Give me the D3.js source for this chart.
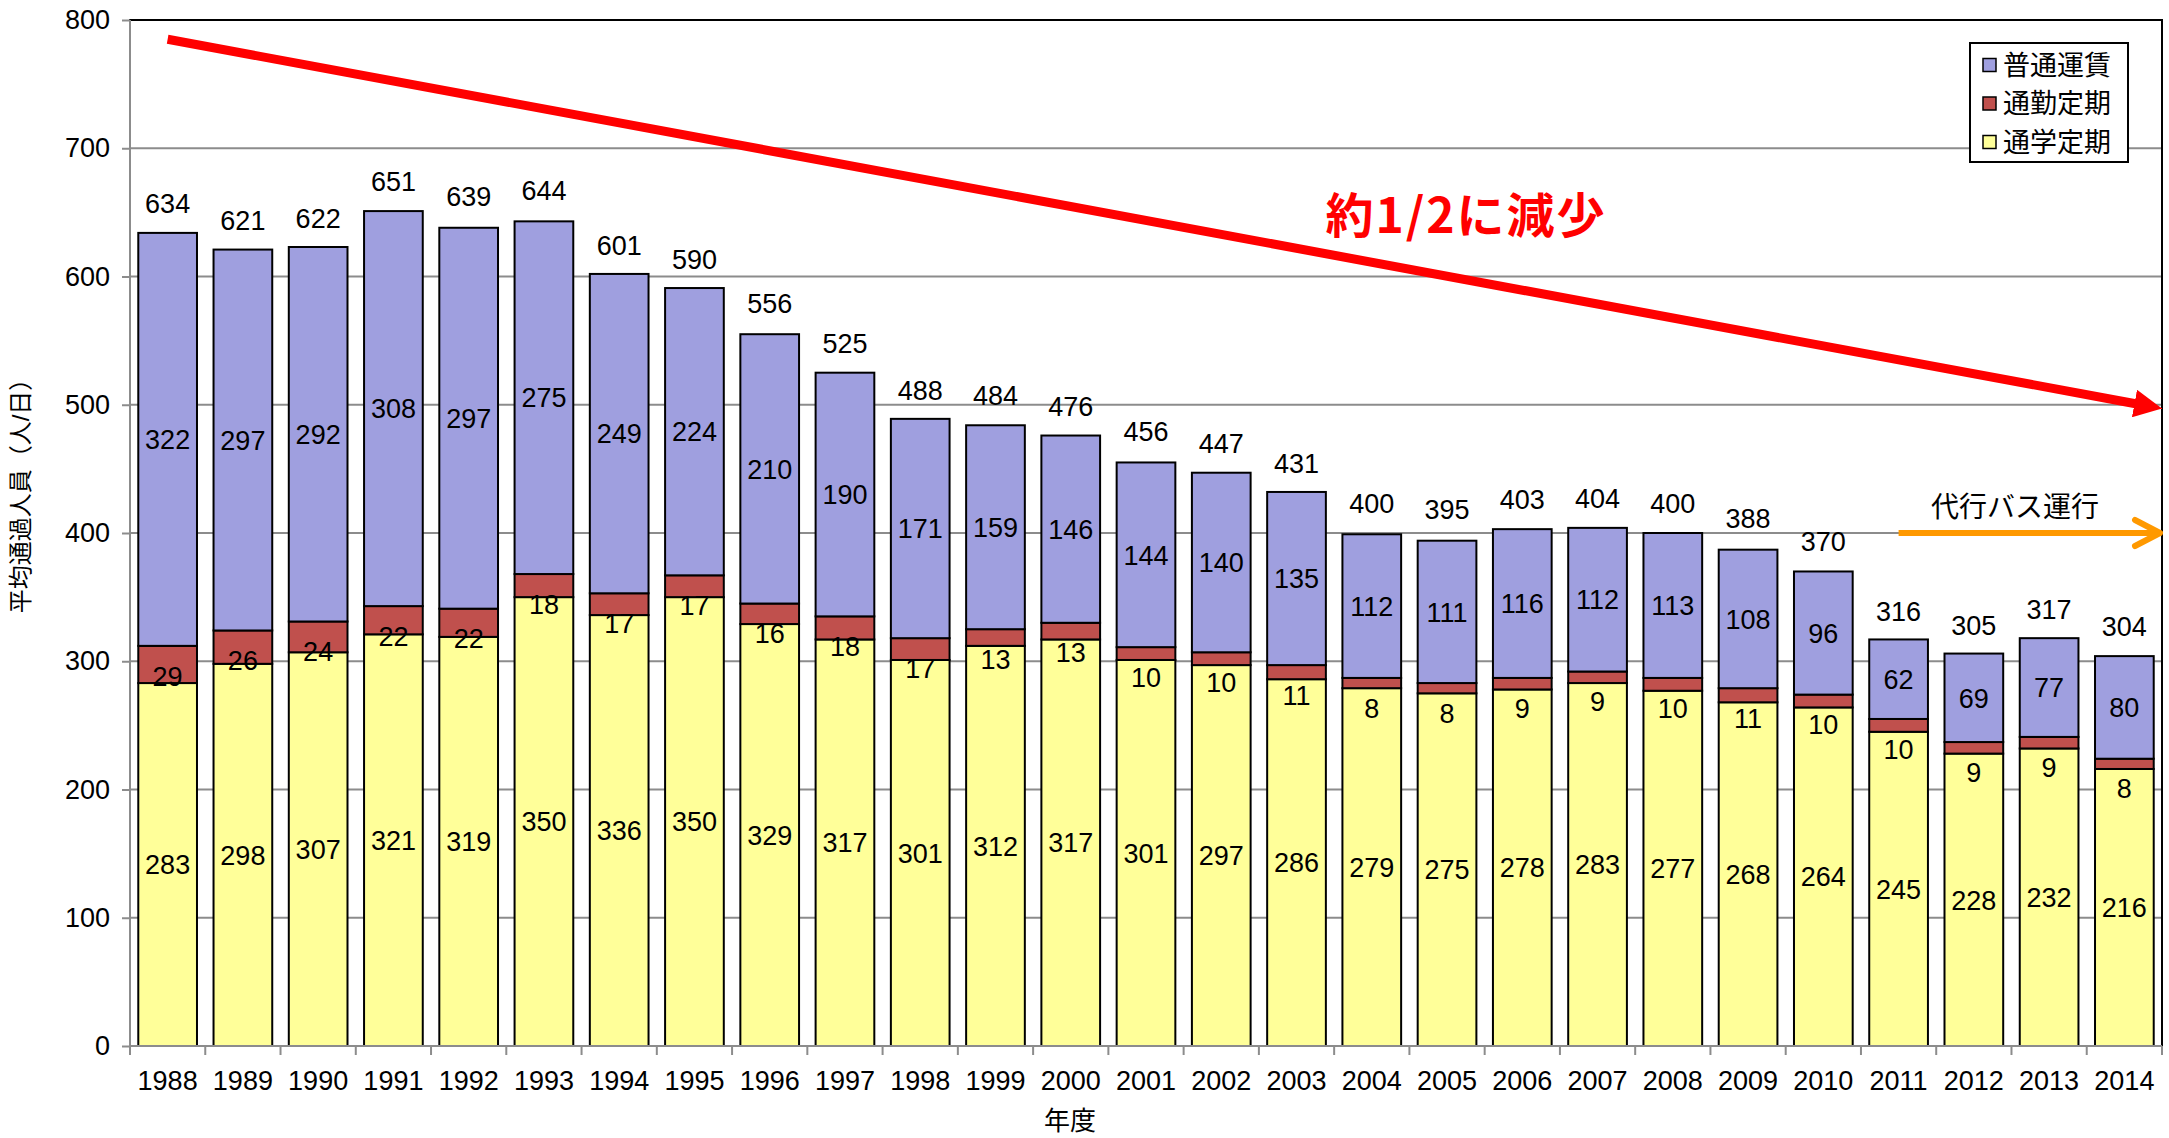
<!DOCTYPE html>
<html>
<head>
<meta charset="utf-8">
<script src="https://cdn.jsdelivr.net/npm/d3@7"></script>
<style>
  body { margin: 0; background: #fff; }
  text { font-family: "Liberation Sans", "Noto Sans CJK JP", sans-serif; }
</style>
</head>
<body>
<div id="chart"></div>
<script>
// 年度ごとの平均通過人員（人/日）
const years = ["1988","1989","1990","1991","1992","1993","1994","1995","1996","1997","1998","1999","2000",
  "2001","2002","2003","2004","2005","2006","2007","2008","2009","2010","2011","2012","2013","2014"];
const regular = [322,297,292,308,297,275,249,224,210,190,171,159,146,144,140,135,112,111,116,112,113,108,96,62,69,77,80];
const commute = [29,26,24,22,22,18,17,17,16,18,17,13,13,10,10,11,8,8,9,9,10,11,10,10,9,9,8];
const school = [283,298,307,321,319,350,336,350,329,317,301,312,317,301,297,286,279,275,278,283,277,268,264,245,228,232,216];
const totals = [634,621,622,651,639,644,601,590,556,525,488,484,476,456,447,431,400,395,403,404,400,388,370,316,305,317,304];

const keys = ["school", "commute", "regular"];
const legendNames = ["普通運賃", "通勤定期", "通学定期"];
const legendKeys = ["regular", "commute", "school"];
const yTicks = [0, 100, 200, 300, 400, 500, 600, 700, 800];

// 注記（値は軸の単位）
const trendStart = ["1988", 785];
const trendEnd = 497;
const busStart = ["2011", 400];
const trendText = "約1/2に減少";
const busText = "代行バス運行";

const colors = { regular: "#9F9FDF", commute: "#C0504D", school: "#FFFF99" };

const width = 2169, height = 1138;
const plotLeft = 130, plotRight = 2162, plotTop = 20, plotBottom = 1046;

const svg = d3.select("#chart").append("svg")
  .attr("width", width)
  .attr("height", height);

const x = d3.scaleBand()
  .domain(years)
  .range([plotLeft, plotRight])
  .paddingInner(0.22)
  .paddingOuter(0.11);

const xb = d3.scaleBand()
  .domain(years)
  .range([plotLeft, plotRight]);

const y = d3.scaleLinear()
  .domain([0, 800])
  .range([plotBottom, plotTop]);

const rows = years.map((yr, i) => ({
  year: yr, school: school[i], commute: commute[i], regular: regular[i], total: totals[i]
}));

const stacked = d3.stack().keys(keys)(rows);

// grid
svg.append("g")
  .selectAll("line")
  .data(yTicks.slice(1, -1))
  .enter()
  .append("line")
  .attr("x1", plotLeft).attr("x2", plotRight)
  .attr("y1", d => y(d)).attr("y2", d => y(d))
  .attr("stroke", "#8c8c8c")
  .attr("stroke-width", 2);

// plot border
svg.append("rect")
  .attr("x", plotLeft).attr("y", plotTop)
  .attr("width", plotRight - plotLeft).attr("height", plotBottom - plotTop)
  .attr("fill", "none")
  .attr("stroke", "#000")
  .attr("stroke-width", 2);

// bars
const layer = svg.append("g")
  .selectAll("g")
  .data(stacked)
  .enter()
  .append("g")
  .attr("fill", d => colors[d.key]);

layer.selectAll("rect")
  .data(d => d)
  .enter()
  .append("rect")
  .attr("x", d => x(d.data.year))
  .attr("y", d => y(d[1]))
  .attr("width", x.bandwidth())
  .attr("height", d => y(d[0]) - y(d[1]))
  .attr("stroke", "#000")
  .attr("stroke-width", 2);

// segment labels
stacked.forEach(s => {
  svg.append("g")
    .selectAll("text")
    .data(s)
    .enter()
    .append("text")
    .attr("x", d => x(d.data.year) + x.bandwidth() / 2)
    .attr("y", d => s.key === "commute" ? y(d[1]) + 30 : (y(d[0]) + y(d[1])) / 2)
    .attr("dy", "0.36em")
    .attr("text-anchor", "middle")
    .style("font-size", "27px")
    .text(d => d.data[s.key]);
});

// total labels
svg.append("g")
  .selectAll("text")
  .data(rows)
  .enter()
  .append("text")
  .attr("x", d => x(d.year) + x.bandwidth() / 2)
  .attr("y", d => y(d.total) - 20)
  .attr("text-anchor", "middle")
  .style("font-size", "27px")
  .text(d => d.total);

// y axis
const yAxis = svg.append("g")
  .attr("transform", `translate(${plotLeft},0)`)
  .call(d3.axisLeft(y).tickValues(yTicks).tickSize(8).tickPadding(12));
yAxis.selectAll("line, path").attr("stroke", "#8c8c8c").attr("stroke-width", 2);
yAxis.select(".domain").attr("d", `M0,${plotTop}V${plotBottom}`);
yAxis.selectAll("text").style("font-size", "27px").attr("fill", "#000");

// x axis
const xAxis = svg.append("g")
  .attr("transform", `translate(0,${plotBottom})`);
xAxis.append("line")
  .attr("x1", plotLeft).attr("x2", plotRight)
  .attr("stroke", "#8c8c8c").attr("stroke-width", 2);
xAxis.selectAll(".tick")
  .data(years.concat(["end"]))
  .enter()
  .append("line")
  .attr("x1", d => d === "end" ? plotRight : xb(d))
  .attr("x2", d => d === "end" ? plotRight : xb(d))
  .attr("y1", 0).attr("y2", 9)
  .attr("stroke", "#8c8c8c").attr("stroke-width", 2);
xAxis.selectAll("text")
  .data(years)
  .enter()
  .append("text")
  .attr("x", d => xb(d) + xb.bandwidth() / 2)
  .attr("y", 44)
  .attr("text-anchor", "middle")
  .style("font-size", "27px")
  .text(d => d);

// axis titles
svg.append("text")
  .attr("x", 1070).attr("y", 1130)
  .attr("text-anchor", "middle")
  .style("font-size", "26px")
  .text("年度");

svg.append("text")
  .attr("transform", "translate(29,490) rotate(-90)")
  .attr("text-anchor", "middle")
  .style("font-size", "24px")
  .text("平均通過人員（人/日）");

// legend
const legend = svg.append("g");
legend.append("rect")
  .attr("x", 1970).attr("y", 43)
  .attr("width", 158).attr("height", 119)
  .attr("fill", "#fff")
  .attr("stroke", "#000")
  .attr("stroke-width", 2);
legendKeys.forEach((k, i) => {
  const cy = 65 + i * 38.5;
  legend.append("rect")
    .attr("x", 1983).attr("y", cy - 6.5)
    .attr("width", 13).attr("height", 13)
    .attr("fill", colors[k])
    .attr("stroke", "#000")
    .attr("stroke-width", 1.5);
  legend.append("text")
    .attr("x", 2003).attr("y", cy)
    .attr("dy", "0.36em")
    .style("font-size", "27px")
    .text(legendNames[i]);
});

// red trend arrow
const defs = svg.append("defs");
defs.append("marker")
  .attr("id", "redHead")
  .attr("viewBox", "0 0 10 10")
  .attr("refX", 10).attr("refY", 5)
  .attr("markerUnits", "userSpaceOnUse")
  .attr("markerWidth", 28).attr("markerHeight", 28)
  .attr("orient", "auto")
  .append("path")
  .attr("d", "M0,0L10,5L0,10Z")
  .attr("fill", "#FF0000");

const tx1 = x(trendStart[0]) + x.bandwidth() / 2;
const ty1 = y(trendStart[1]);
const tx2 = plotRight;
const ty2 = y(trendEnd);
const ang = Math.atan2(ty2 - ty1, tx2 - tx1);
svg.append("line")
  .attr("x1", tx1).attr("y1", ty1)
  .attr("x2", tx2 - 20 * Math.cos(ang)).attr("y2", ty2 - 20 * Math.sin(ang))
  .attr("stroke", "#FF0000")
  .attr("stroke-width", 9);
svg.append("line")
  .attr("x1", tx2 - 26 * Math.cos(ang)).attr("y1", ty2 - 26 * Math.sin(ang))
  .attr("x2", tx2).attr("y2", ty2)
  .attr("stroke", "#FF0000")
  .attr("stroke-width", 1)
  .attr("marker-end", "url(#redHead)");

svg.append("text")
  .attr("x", 1466).attr("y", 233)
  .attr("text-anchor", "middle")
  .style("font-family", "'Noto Sans CJK JP', sans-serif")
  .style("font-size", "48px")
  .style("font-weight", "bold")
  .style("letter-spacing", "2px")
  .attr("fill", "#FF0000")
  .text(trendText);

// orange bus arrow
const bx1 = xb(busStart[0]) + xb.bandwidth() / 2;
const by = y(busStart[1]);
svg.append("line")
  .attr("x1", bx1).attr("y1", by)
  .attr("x2", plotRight - 2).attr("y2", by)
  .attr("stroke", "#FF9900")
  .attr("stroke-width", 6);
svg.append("path")
  .attr("d", `M${plotRight - 27},${by - 13}L${plotRight - 2},${by}L${plotRight - 27},${by + 13}`)
  .attr("fill", "none")
  .attr("stroke", "#FF9900")
  .attr("stroke-width", 6)
  .attr("stroke-linecap", "round")
  .attr("stroke-linejoin", "round");

svg.append("text")
  .attr("x", 2015).attr("y", 507)
  .attr("dy", "0.36em")
  .attr("text-anchor", "middle")
  .style("font-family", "'Noto Sans CJK JP', sans-serif")
  .style("font-size", "28px")
  .text(busText);
</script>
</body>
</html>
